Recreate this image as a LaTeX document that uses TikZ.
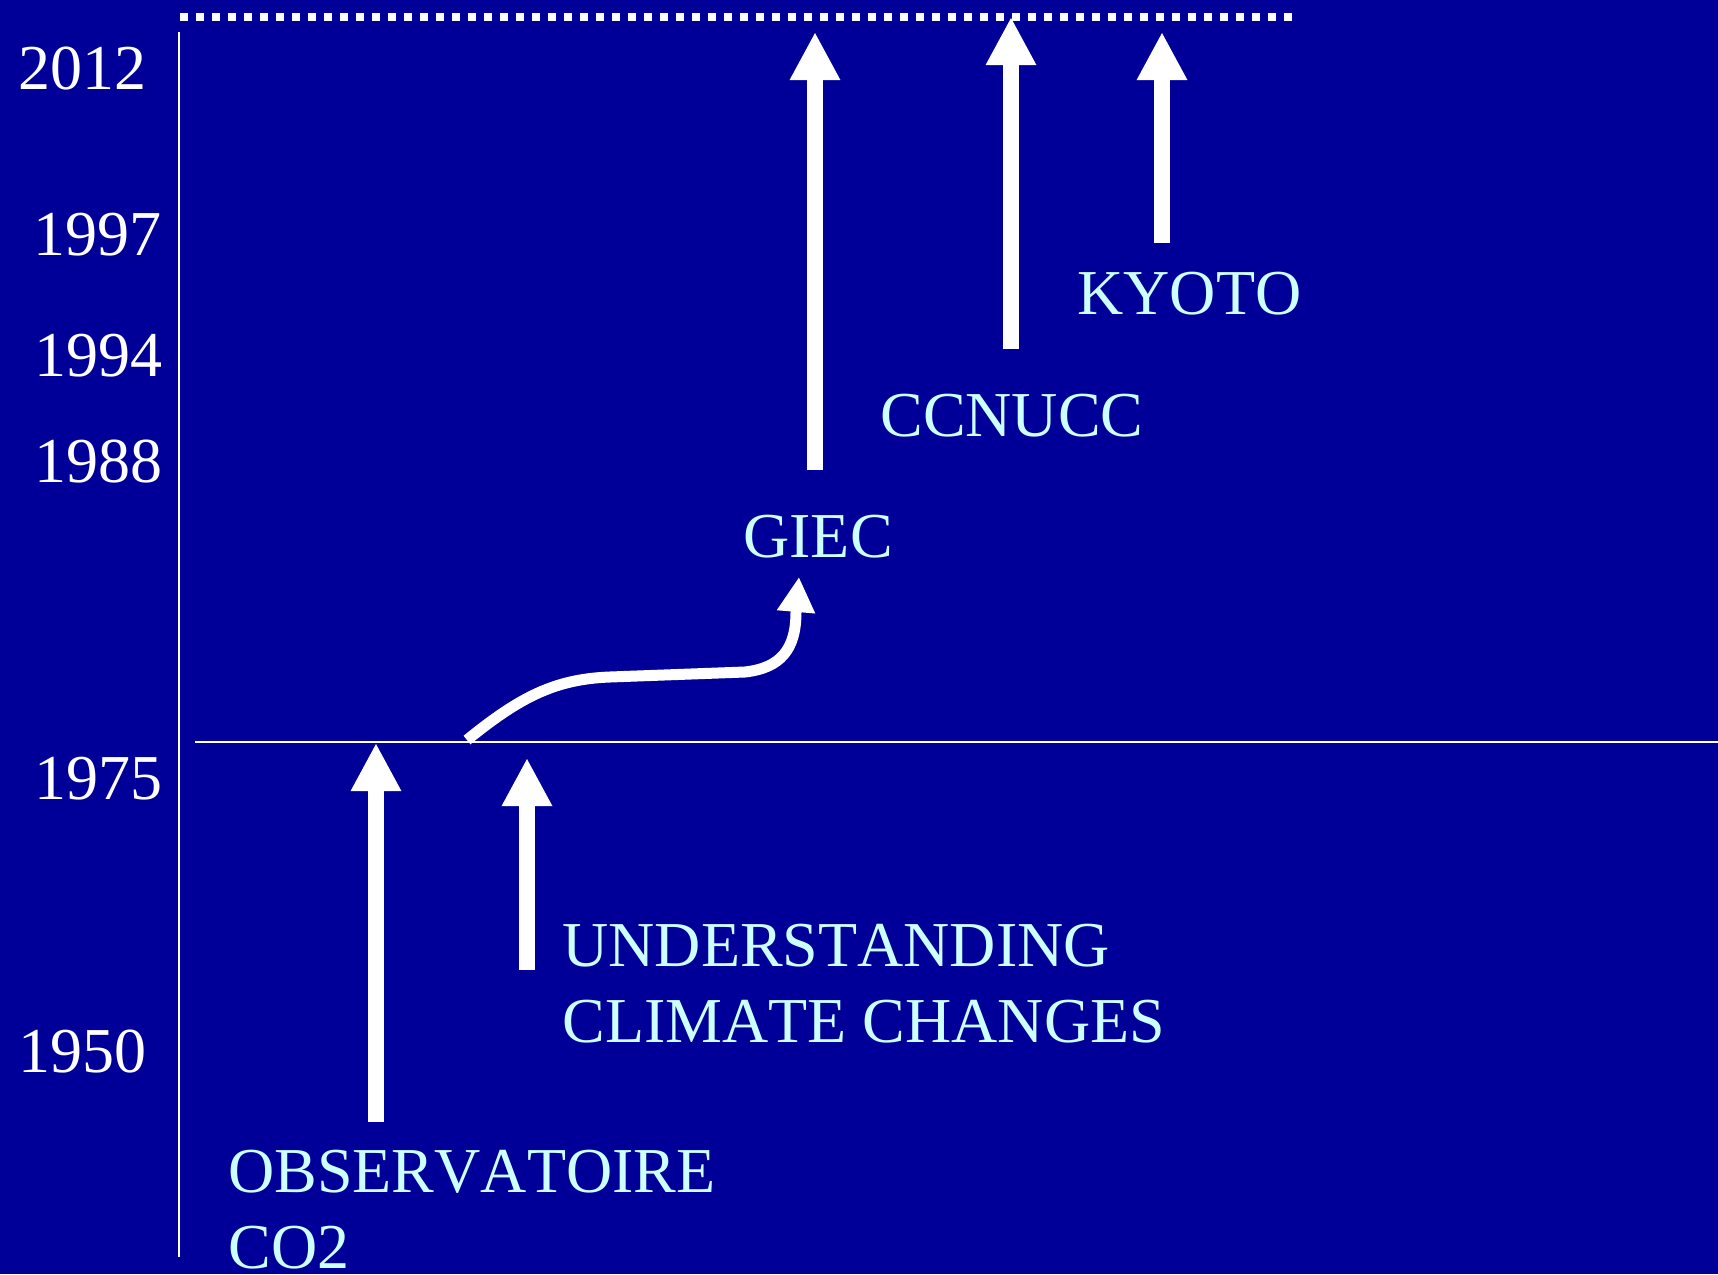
\documentclass[tikz,border=0pt]{standalone}
\usepackage{fontspec}
\setmainfont{Liberation Serif}[Kerning=Off]
\usetikzlibrary{arrows.meta}
\definecolor{bgblue}{RGB}{0,0,153}
\definecolor{lcyan}{RGB}{204,255,255}
\begin{document}
\begin{tikzpicture}[x=0.5pt,y=-0.5pt,
  yeartext/.style={text=white, font=\fontsize{32}{38}\selectfont, anchor=base west, inner sep=0pt},
  eventtext/.style={text=lcyan, font=\fontsize{32}{38}\selectfont, anchor=base west, inner sep=0pt},
  bigarrow/.style={draw=white, line width=8pt, -{Triangle[width=23.5pt,length=24pt]}},
  curvearrow/.style={draw=white, line width=5.5pt, -{Triangle[width=18pt,length=17.5pt]}},
  thinline/.style={draw=white, line width=1pt}]
\fill[bgblue] (0,0) rectangle (1718,1274);
\useasboundingbox (0,0) rectangle (1718,1274);
% coordinates
\coordinate (dotL) at (180,17);
\coordinate (dotR) at (1292,17);
\coordinate (axT) at (179,32);
\coordinate (axB) at (179,1257);
\coordinate (hL) at (195,742);
\coordinate (hR) at (1718,742);
\coordinate (giecS) at (815,470);
\coordinate (giecE) at (815,32);
\coordinate (ccS) at (1011,349);
\coordinate (ccE) at (1011,17);
\coordinate (kyS) at (1162,243);
\coordinate (kyE) at (1162,32);
\coordinate (obsS) at (376,1122);
\coordinate (obsE) at (376,743);
\coordinate (undS) at (527,970);
\coordinate (undE) at (527,758);
\coordinate (cS) at (467,740);
\coordinate (cE) at (799,577);
% lines
\draw[white, line width=3.75pt, dash pattern=on 4pt off 4pt] (dotL) -- (dotR);
\draw[thinline] (axT) -- (axB);
\draw[thinline] (hL) -- (hR);
% arrows
\draw[bigarrow] (giecS) -- (giecE);
\draw[bigarrow] (ccS) -- (ccE);
\draw[bigarrow] (kyS) -- (kyE);
\draw[bigarrow] (obsS) -- (obsE);
\draw[bigarrow] (undS) -- (undE);
\draw[curvearrow] (cS) .. controls (520,697) and (555,679) .. (610,677) -- (745,672)
  .. controls (780,668) and (796,650) .. (796,612) -- (cE);
% years
\node[yeartext] (y2012) at (18,89) {2012};
\node[yeartext] (y1997) at (33,255) {1997};
\node[yeartext] (y1994) at (34,376) {1994};
\node[yeartext] (y1988) at (34,482) {1988};
\node[yeartext] (y1975) at (34,799) {1975};
\node[yeartext] (y1950) at (18,1072) {1950};
% events
\node[eventtext] (giec) at (743,557) {GIEC};
\node[eventtext] (ccnucc) at (880,436) {CCNUCC};
\node[eventtext] (kyoto) at (1077,314) {KYOTO};
\node[eventtext] (und1) at (562,966) {UNDERSTANDING};
\node[eventtext] (und2) at (562,1042) {CLIMATE CHANGES};
\node[eventtext] (obs1) at (228,1192) {OBSERVATOIRE};
\node[eventtext] (obs2) at (228,1268) {CO2};
\end{tikzpicture}
\end{document}
